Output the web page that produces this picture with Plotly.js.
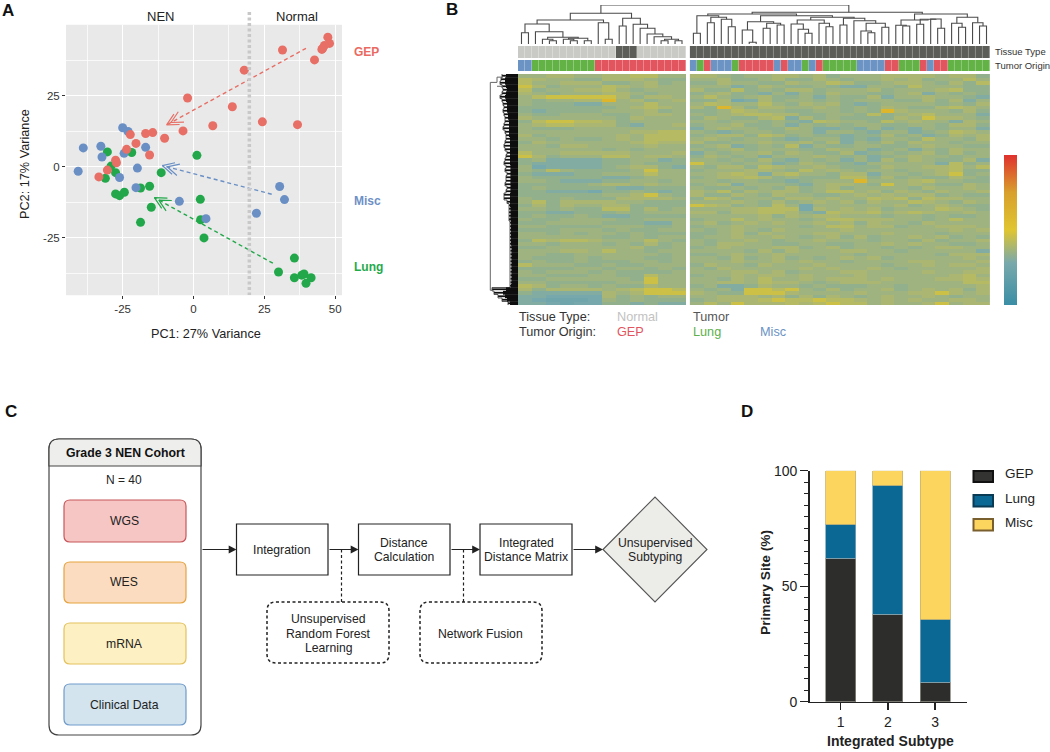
<!DOCTYPE html>
<html>
<head>
<meta charset="utf-8">
<script src="https://cdn.plot.ly/plotly-3.0.1.min.js"></script>
<style>html,body{margin:0;padding:0;background:#fff}</style>
</head>
<body>
<div id="chart" style="width:1050px;height:752px"></div>
<script>
// ---------- Panel A data ----------
const gepX  = [47.4,48.0,46.2,45.3,45.6,31.4,42.7,17.9,-2.1,13.7,24.3,36.7,6.8,-3.7,-10.2,-14.4,-16.9,-22.3,-20.3,-23.6,-15.5,-27.5,-27.2,-30.4,-33.4];
const gepY  = [45.6,43.4,42.7,41.3,41.7,41.1,37.6,34.0,24.2,21.1,15.8,14.8,14.4,12.6,10.0,12.0,11.7,11.3,8.2,6.1,4.1,2.3,1.4,-1.2,-3.6];
const miscX = [-40.7,-38.9,-32.7,-32.3,-25.0,-23.1,-24.5,-16.9,-19.8,-26.1,-20.3,-5.0,4.4,22.2,30.4,32.1];
const miscY = [-1.6,6.6,7.2,3.4,13.7,12.4,4.7,6.8,-0.5,-3.8,-7.4,-12.2,-18.3,-16.4,-7.0,-11.6];
const lungX = [-30.4,-21.8,-29.1,-27.5,-31.1,1.2,-11.4,-15.5,-18.7,-27.5,-26.1,-24.4,2.4,-14.9,2.5,-18.7,3.7,35.6,30.0,35.6,38.2,39.0,39.7,41.5];
const lungY = [5.2,5.0,0.2,-2.1,-4.1,4.0,-2.1,-6.9,-7.5,-9.6,-10.2,-9.0,-11.5,-14.3,-18.7,-19.6,-25.1,-32.2,-37.1,-39.1,-38.2,-37.8,-41.1,-39.1];
const gepArrow  = [[39.7,41.7],[-9.5,14.7]];
const miscArrow = [[27.6,-9.7],[-11,0.4]];
const lungArrow = [[28,-34],[-13.8,-10.9]];
const xTickVals = [-25,0,25,50], xTickText = ['-25','0','25','50'];
const yTickVals = [-25,0,25],    yTickText = ['-25','0','25'];

// ---------- Panel B data ----------
const levelValues = [0.20,0.24,0.27,0.30,0.335,0.36,0.385,0.41,0.46,0.60];
const leftRows = [
"556655667755","765544666544","755666445645","864555765655","745566754555","654555665455",
"578888864665","545566956456","544433555755","444444456765","434444555645","544555445665",
"655555546555","478877645555","567766643556","544455555555","555555556677","645555565777",
"554544565777","465555556766","554665555655","555555454555","755666665556","864555775665",
"453333445534","433333445444","523333456643","547544445855","433344555755","544444334555",
"554333445545","444445665655","454444433444","443332445434","444444556854","544544466665",
"574666655444","464655664444","554544774645","443344454555","454454334444","544555544555",
"445555444335","554444555445","444555454455","554545545444","555555445455","476776555754",
"554555454645","445555556445","555665755455","554455555545","544454555445","454454445545",
"755544544555","444455455454","545554544445","554445544755","445555554855","554444455855",
"764554544655","646666567887","433333656888","332222645455","321112545444","332122443433"];
const rightRows = [
"6654556656455566665664","5564456446545565645575","4465544655764456654647","5553465445433554755544",
"6447454664555645556744","4564435354655445635454","5754564453544635565543","4462364554545554464635",
"5765575465643455554546","6496466556545465446765","4457655445545496555464","5456776644554745675553",
"4654467364544446586654","5545545437655475655365","4556445354545544554664","3565544653343534354553",
"5434554553554355345765","4566476454434464534656","5654554345534355475546","6445565564635464655455",
"4563454735445544565544","5456455544655345354655","3545564654463454564645","4654535556545345655455",
"5545464354535364654463","8554553465443555553745","5466476556544465566757","4555665475654554556744",
"5567636755466355456845","4566764544477464544654","5545544345559555675544","4563555435665485654465",
"5445454645645555465565","6574656645775646546556","6446546554456565664544","4764554665655767476655",
"5556546456564655765465","8764547525555556456544","5556677726565645557654","6646677643766756765565",
"5555564656655545545445","4557565545776665545755","5645656556564655465555","4556555545775664556665",
"5456546555565555555656","4456465556655565554555","4556556545646455656454","5455654556555455464556",
"5466554455445565655445","4565556645645545456655","5555464655566554555553","4456556555554555554666",
"5546456454565645555565","5556556565545555665556","4655465556555545565665","5465555565655654555556",
"5556656455566555565566","4556566565556555555675","5546575565666565556676","5566576654566655555577",
"4533465545444554555556","5453887854645564565646","6544888655556555668656","5566656464654565565455",
"4566678778776565655665","5758666767877565568566"];
const tissueLeft  = "NNNNNNNNNNNNNNTTTNNNNNNN";
const tissueRight = "TTTTTTTTTTTTTTTTTTTTTTTTTTTTTTTTTTTTTTTTTTT";
const originLeft  = "BBGGGGGGGGGRRRRRRRRRRRRR";
const originRight = "BGRBBBGRRRRRBRBBGBRGGGGGBBBBRRGGGRBRRGGGGGG";
// Column tree: [childA, childB, height, optional position]; child >= 0 is a leaf, child < 0 is an earlier merge
const columnTree = [
[4,5,3.3],[3,-1,4.7],[7,8,3.3],[6,-3,4.7],[9,10,3.3],[-4,-5,5.7],[-2,-6,6.7],[2,-7,12.3],[0,1,11.3],[-9,-8,20],
[12,13,4.7],[11,-11,21.3],[-10,-12,24],[14,15,18],[22,23,3.3],[20,21,3.3],[-16,-15,4.7],[19,-17,7.3],[18,-18,10],[17,-19,15.7],
[16,-20,19.7],[-14,-21,25.7],[-13,-22,30.7],
[24,25,10.7],[26,27,21.3],[29,30,17.3],[28,-26,24.7],[-25,-27,26.7],[-24,-28,28.3],[32,33,1.7],
[31,-30,14],[34,35,15.7],[36,37,19],[-32,-33,20.7],[-31,-34,22.3],[40,41,10.7],[39,-36,14.7],[38,-37,20],[43,44,17.3],[42,-39,20.7],
[-38,-40,24],[45,46,19],[49,50,11.3],[48,-43,13],[51,52,16.7],[-44,-45,20.7],[47,-46,23.3],[-42,-47,25.7],[-41,-48,26.7],[-35,-49,28.3],
[-29,-50,30],[54,55,18],[53,-52,18.7],[56,57,19.7],[59,60,15.7],[58,-55,25],[-54,-56,24.7],[-53,-57,24],[62,63,16.7],[61,-59,20.7],
[65,66,18],[64,-61,21.3],[-60,-62,26.7],[-58,-63,30,57.43],[-51,-64,31.7,46.9],[-23,-65,39]];
const rowCore = [12,13,13,12,11,12,13,12,11,11,11,10,10,9,9,9,9,9,8,8,8,8,8,8,8,8,7.5,7.5,7.5,7.5,7.5,7.5,7.5,7.5,8,8,8,8,7.5,7.5,7.5,7.5,7,7,7,7,7,7,7,6.5,6.5,6.5,6.5,6.5,6.5,6.5,6.5,6.5,6.5,6.5,7,12,15,13,11,8];
const rowBranch = [16,17,18,16,15,16,18,16,15,14,15,14,13,13,14,15,13,12,12,13,14,13,11,12,13,14,12,13,11,12,12,13,11,12,14,14,11,9,9,9,9,9,8,8,8,8,8,8,8,8,7.5,7.5,7.5,7.5,7.5,7.5,7.5,7.5,7.5,7.5,8,26,24,20,16,10];
const rowRootX = [15,21,21,21,27.7,27.7,25,null,21,15];
const rowRootY = [0.4,0.4,1.9,1.9,1.9,61.3,61.3,null,3,3];

// ---------- Panel D data ----------
const subtypes = [1,2,3];
const dGep  = [62,37.8,8.5];
const dLung = [14.8,56,27.3];
const dMisc = [23.2,6.2,64.2];

// ---------- helpers ----------
const W=1050,H=752;
const X=p=>p/W, Y=p=>1-p/H;
const domX=(a,b)=>[a/W,b/W], domY=(a,b)=>[1-b/H,1-a/H];
const FONT='"Liberation Sans", Arial, sans-serif';
const C={gep:'#E76F66',misc:'#6A8FC5',lung:'#22A84A'};

function chevrons(arrow){
  const [s,t]=arrow; const kx=70.8/25, ky=71/25;
  let dx=(s[0]-t[0])*kx, dy=(s[1]-t[1])*ky; const L=Math.hypot(dx,dy); dx/=L; dy/=L;
  const xs=[],ys=[];
  [0,5].forEach(off=>{
    const tx=t[0]+dx*off/kx, ty=t[1]+dy*off/ky;
    [27,-27].forEach((a,i)=>{
      const r=a*Math.PI/180,c=Math.cos(r),n=Math.sin(r);
      const wx=(dx*c-dy*n)*13/kx, wy=(dx*n+dy*c)*13/ky;
      if(i===0){xs.push(tx+wx,tx);ys.push(ty+wy,ty);} else {xs.push(tx+wx,null);ys.push(ty+wy,null);}
    });
  });
  return {x:xs,y:ys};
}
function arrowTraces(arrow,color){
  const c=chevrons(arrow);
  return [
   {type:'scatter',mode:'lines',x:arrow.map(p=>p[0]),y:arrow.map(p=>p[1]),line:{color,width:1.4,dash:'4px,3px'},xaxis:'x',yaxis:'y',hoverinfo:'skip',showlegend:false},
   {type:'scatter',mode:'lines',x:c.x,y:c.y,line:{color,width:1.2},xaxis:'x',yaxis:'y',hoverinfo:'skip',showlegend:false}
  ];
}
const leafX=i=>i<24?i:i+0.63;
function treeSegments(tree){
  const pos=[],hs=[],xs=[],ys=[];
  const get=c=>c>=0?[leafX(c),0]:[pos[-c-1],hs[-c-1]];
  tree.forEach((m,i)=>{
    const [ax,ah]=get(m[0]),[bx,bh]=get(m[1]);
    pos[i]=m[3]!==undefined?m[3]:(ax+bx)/2; hs[i]=m[2];
    xs.push(ax,ax,bx,bx,null); ys.push(ah,m[2],m[2],bh,null);
  });
  return {x:xs,y:ys};
}
const decode=rows=>rows.map(r=>r.split('').map(d=>levelValues[+d]));
const catCode={N:0,T:1,B:2,G:3,R:4};
const annScale=[[0,'#C9C9C5'],[0.2,'#C9C9C5'],[0.2,'#5C5C58'],[0.4,'#5C5C58'],[0.4,'#6B93C4'],[0.6,'#6B93C4'],[0.6,'#62B246'],[0.8,'#62B246'],[0.8,'#E2555F'],[1,'#E2555F']];
const heatScale=[[0,'#3A8EA5'],[0.28,'#79A9AC'],[0.5,'#E0C530'],[0.75,'#D8A02C'],[1,'#E0312E']];
const codes=s=>s.split('').map(c=>catCode[c]);

// ---------- traces ----------
const traces=[];
const pts=(x,y,color,name)=>({type:'scatter',mode:'markers',name,x,y,marker:{color,size:9},xaxis:'x',yaxis:'y',showlegend:false});
traces.push(pts(lungX,lungY,C.lung,'Lung'),pts(miscX,miscY,C.misc,'Misc'),pts(gepX,gepY,C.gep,'GEP'));
traces.push(...arrowTraces(gepArrow,C.gep),...arrowTraces(miscArrow,C.misc),...arrowTraces(lungArrow,C.lung));

// heatmap blocks
traces.push({type:'heatmap',z:decode(leftRows),x0:0.5,dx:2,y0:0,dy:1,xaxis:'x2',yaxis:'y2',zmin:0,zmax:1,colorscale:heatScale,
  showscale:true,colorbar:{x:1004/W,xanchor:'left',y:Y(305),yanchor:'bottom',len:150,lenmode:'pixels',thickness:13,thicknessmode:'pixels',showticklabels:false,ticks:'',outlinewidth:0,xpad:0,ypad:0},hoverinfo:'skip'});
traces.push({type:'heatmap',z:decode(rightRows),x0:24.13+43/44,dx:43/22,y0:0,dy:1,xaxis:'x2',yaxis:'y2',zmin:0,zmax:1,colorscale:heatScale,showscale:false,hoverinfo:'skip'});
// annotation bars
traces.push({type:'heatmap',z:[codes(originLeft),codes(tissueLeft)],x0:0,dx:1,y:[0,1],xaxis:'x2',yaxis:'y3',zmin:0,zmax:5,zauto:false,colorscale:annScale,showscale:false,xgap:0.3,ygap:2,hoverinfo:'skip'});
traces.push({type:'heatmap',z:[codes(originRight),codes(tissueRight)],x0:24.63,dx:1,y:[0,1],xaxis:'x2',yaxis:'y3',zmin:0,zmax:5,zauto:false,colorscale:annScale,showscale:false,xgap:0.3,ygap:2,hoverinfo:'skip'});
// column dendrogram
const tree=treeSegments(columnTree);
traces.push({type:'scatter',mode:'lines',x:tree.x,y:tree.y,xaxis:'x2',yaxis:'y4',line:{color:'#4A4A4A',width:1.1},hoverinfo:'skip',showlegend:false});
// row dendrogram
const branchX=[],branchY=[],coreX=[],coreY=[],stairX=[],stairY=[];
rowCore.forEach((d,i)=>{coreX.push(d,0,null);coreY.push(i,i,null);});
rowBranch.forEach((d,i)=>{branchX.push(d,0,null);branchY.push(i,i,null);stairX.push(d,d);stairY.push(i-0.5,i+0.5);});
traces.push({type:'scatter',mode:'lines',x:branchX,y:branchY,xaxis:'x3',yaxis:'y2',line:{color:'#111',width:1.8},hoverinfo:'skip',showlegend:false});
traces.push({type:'scatter',mode:'lines',x:stairX,y:stairY,xaxis:'x3',yaxis:'y2',line:{color:'#333',width:0.8},hoverinfo:'skip',showlegend:false});
traces.push({type:'scatter',mode:'lines',x:coreX,y:coreY,xaxis:'x3',yaxis:'y2',line:{color:'#0E0E0E',width:3.9},hoverinfo:'skip',showlegend:false});
traces.push({type:'scatter',mode:'lines',x:rowRootX,y:rowRootY,xaxis:'x3',yaxis:'y2',line:{color:'#666',width:1},hoverinfo:'skip',showlegend:false});
// bars
const barLine=c=>({color:c,width:0.8});
traces.push({type:'bar',name:'GEP',x:subtypes,y:dGep,width:0.636,marker:{color:'#2D2D2B',line:barLine('#8a8a80')},xaxis:'x4',yaxis:'y5',showlegend:false});
traces.push({type:'bar',name:'Lung',x:subtypes,y:dLung,width:0.636,marker:{color:'#0B6794',line:barLine('#7fa6b8')},xaxis:'x4',yaxis:'y5',showlegend:false});
traces.push({type:'bar',name:'Misc',x:subtypes,y:dMisc,width:0.636,marker:{color:'#FCD55F',line:barLine('#c9b36a')},xaxis:'x4',yaxis:'y5',showlegend:false});

// ---------- shapes ----------
const shapes=[];
const rect=(x0,y0,x1,y1,fill,line,w,layer)=>shapes.push({type:'rect',xref:'paper',yref:'paper',x0:X(x0),x1:X(x1),y0:Y(y0),y1:Y(y1),fillcolor:fill,line:{color:line,width:w===undefined?1:w},layer:layer||'above'});
function rrect(x0,y0,x1,y1,r,fill,line,w,dash){
  const p=`M ${X(x0+r)} ${Y(y0)} L ${X(x1-r)} ${Y(y0)} Q ${X(x1)} ${Y(y0)} ${X(x1)} ${Y(y0+r)} L ${X(x1)} ${Y(y1-r)} Q ${X(x1)} ${Y(y1)} ${X(x1-r)} ${Y(y1)} L ${X(x0+r)} ${Y(y1)} Q ${X(x0)} ${Y(y1)} ${X(x0)} ${Y(y1-r)} L ${X(x0)} ${Y(y0+r)} Q ${X(x0)} ${Y(y0)} ${X(x0+r)} ${Y(y0)} Z`;
  shapes.push({type:'path',xref:'paper',yref:'paper',path:p,fillcolor:fill,line:{color:line,width:w,dash:dash||'solid'}});
}
const hline=(x0,y0,x1,y1,color,w,dash)=>shapes.push({type:'line',xref:'paper',yref:'paper',x0:X(x0),x1:X(x1),y0:Y(y0),y1:Y(y1),line:{color,width:w,dash:dash||'solid'}});
// A background and divider
rect(66,24.7,342,295.3,'#E9E9E9','#E9E9E9',0,'below');
shapes.push({type:'line',xref:'x',yref:'paper',x0:19.7,x1:19.7,y0:Y(12),y1:Y(295),line:{color:'#C8C8C8',width:3.5,dash:'3px,2.5px'}});
// C diagram
rrect(49,439,201,735,10,'#FFFFFF','#444',1.2);
const hdr=`M ${X(49)} ${Y(466)} L ${X(49)} ${Y(449)} Q ${X(49)} ${Y(439)} ${X(59)} ${Y(439)} L ${X(191)} ${Y(439)} Q ${X(201)} ${Y(439)} ${X(201)} ${Y(449)} L ${X(201)} ${Y(466)} Z`;
shapes.push({type:'path',xref:'paper',yref:'paper',path:hdr,fillcolor:'#EEEEEC',line:{color:'#444',width:1.2}});
rrect(64,500,186,542,6,'#F5C6C4','#C8565A',1.2);
rrect(64,562,186,603,6,'#FBDCC0','#E6A33F',1.2);
rrect(64,623,186,664,6,'#FDF0C2','#E3C25E',1.2);
rrect(64,684,186,725,6,'#D3E4EE','#6F9BCB',1.2);
rect(236.5,524,328,575,'#FFFFFF','#222',1.2);
rect(358.5,524,450,575,'#FFFFFF','#222',1.2);
rect(480,524,572,575,'#FFFFFF','#222',1.2);
shapes.push({type:'path',xref:'paper',yref:'paper',path:`M ${X(603)} ${Y(549.5)} L ${X(655)} ${Y(497)} L ${X(707)} ${Y(549.5)} L ${X(655)} ${Y(602)} Z`,fillcolor:'#ECECE9',line:{color:'#555',width:1.1}});
hline(341.5,549.5,341.5,602,'#222',1.2,'3px,2.5px');
hline(463.5,549.5,463.5,602,'#222',1.2,'3px,2.5px');
rrect(267,602,389,663,9,'#FFFFFF','#222',1.5,'3px,2.5px');
rrect(420,602,542,663,9,'#FFFFFF','#222',1.5,'3px,2.5px');
// D legend swatches
rect(973.5,471,993,482,'#333331','#111',2);
rect(973.5,495,993,506.5,'#0B6794','#0A3B55',2);
rect(973.5,519,993,530.5,'#FCD55F','#7A5F2E',2);

// ---------- annotations ----------
const ann=[];
const txt=(x,y,text,size,color,opt)=>ann.push(Object.assign({xref:'paper',yref:'paper',x:X(x),y:Y(y),text,showarrow:false,xanchor:'center',yanchor:'middle',font:{family:FONT,size,color},borderpad:0},opt||{}));
const L={xanchor:'left'};
txt(1,10,'<b>A</b>',17,'#111',L); txt(445,9,'<b>B</b>',17,'#111',L); txt(4,411,'<b>C</b>',17,'#111',L); txt(740,411,'<b>D</b>',17,'#111',L);
txt(160,16,'NEN',13,'#222'); txt(297,16,'Normal',13,'#222');
txt(206,334,'PC1: 27% Variance',12.7,'#222'); txt(25,164,'PC2: 17% Variance',12.7,'#222',{textangle:-90});
txt(353,52,'<b>GEP</b>',12,'#EA6A62',L); txt(353,201,'<b>Misc</b>',12,'#6E90C6',L); txt(353,267,'<b>Lung</b>',12,'#1FAA4C',L);
txt(994,51,'Tissue Type',9.5,'#333',L); txt(994,65,'Tumor Origin',9.5,'#333',L);
txt(518,316.5,'Tissue Type:',12.7,'#333',L); txt(518,332,'Tumor Origin:',12.7,'#333',L);
txt(616,316.5,'Normal',12.7,'#C2C2C2',L); txt(692,316.5,'Tumor',12.7,'#555',L);
txt(616,332,'GEP',12.7,'#E2555F',L); txt(692,332,'Lung',12.7,'#5DB04A',L); txt(759,332,'Misc',12.7,'#6B93C4',L);
txt(125,453,'<b>Grade 3 NEN Cohort</b>',12.3,'#111');
txt(124,480,'N = 40',12,'#222');
txt(124,521,'WGS',12.2,'#222'); txt(124,582,'WES',12.2,'#222'); txt(124,643.5,'mRNA',12.2,'#222'); txt(124,704.5,'Clinical Data',12.2,'#222');
txt(282,550,'Integration',12.2,'#222');
txt(404,543,'Distance',12.2,'#222'); txt(404,557,'Calculation',12.2,'#222');
txt(526,543,'Integrated',12.2,'#222'); txt(526,557,'Distance Matrix',12.2,'#222');
txt(655,543,'Unsupervised',12.2,'#222'); txt(655,557,'Subtyping',12.2,'#222');
txt(328,619,'Unsupervised',12.2,'#222'); txt(328,633.5,'Random Forest',12.2,'#222'); txt(328,648,'Learning',12.2,'#222');
txt(480,633.5,'Network Fusion',12.2,'#222');
txt(1004,473,'GEP',13.5,'#222',L); txt(1004,498,'Lung',13.5,'#222',L); txt(1004,522,'Misc',13.5,'#222',L);
txt(890,741,'<b>Integrated Subtype</b>',14,'#222'); txt(765,583,'<b>Primary Site (%)</b>',13.7,'#222',{textangle:-90});
// flow arrows
[[236.5,35.5],[358.5,30.5],[480,30],[603,31]].forEach(([tip,len])=>ann.push({xref:'paper',yref:'paper',x:X(tip),y:Y(549.5),ax:-len,ay:0,axref:'pixel',ayref:'pixel',text:'',showarrow:true,arrowhead:2,arrowsize:1.3,arrowwidth:1.2,arrowcolor:'#222'}));

// ---------- layout ----------
const hidden={visible:false,showgrid:false,zeroline:false,fixedrange:true};
const layout={
 width:W,height:H,margin:{l:0,r:0,t:0,b:0},paper_bgcolor:'#fff',plot_bgcolor:'rgba(0,0,0,0)',
 font:{family:FONT,color:'#222'},showlegend:false,barmode:'stack',shapes,annotations:ann,
 xaxis:{domain:domX(66,342),range:[-45,52.4],tickvals:xTickVals,ticktext:xTickText,ticks:'outside',ticklen:3,tickcolor:'#333',tickfont:{size:11.5,color:'#333'},
   showgrid:true,gridcolor:'#fff',gridwidth:1.4,zeroline:false,minor:{tickvals:[-37.5,-12.5,12.5,37.5],showgrid:true,gridcolor:'#fff',gridwidth:0.7,ticks:''},anchor:'y'},
 yaxis:{domain:domY(24.7,295.3),range:[-45.3,50],tickvals:yTickVals,ticktext:yTickText,ticks:'outside',ticklen:3,tickcolor:'#333',tickfont:{size:11.5,color:'#333'},
   showgrid:true,gridcolor:'#fff',gridwidth:1.4,zeroline:false,minor:{tickvals:[-37.5,-12.5,12.5,37.5],showgrid:true,gridcolor:'#fff',gridwidth:0.7,ticks:''},anchor:'x'},
 xaxis2:Object.assign({},hidden,{domain:domX(518,990),range:[-0.5,67.13],anchor:'y2'}),
 yaxis2:Object.assign({},hidden,{domain:domY(74,305),range:[65.5,-0.5],anchor:'x2'}),
 yaxis3:Object.assign({},hidden,{domain:domY(45,72),range:[-0.5,1.5],anchor:'x2'}),
 yaxis4:Object.assign({},hidden,{domain:domY(5,44),range:[0,39],anchor:'x2'}),
 xaxis3:Object.assign({},hidden,{domain:domX(475,518),range:[43,0],anchor:'y2'}),
 xaxis4:{domain:domX(809.5,966.7),range:[0.34,3.67],tickvals:subtypes,ticks:'outside',ticklen:7,tickwidth:1.3,tickcolor:'#222',linecolor:'#222',linewidth:1.4,showline:true,showgrid:false,zeroline:false,
   tickfont:{size:14,color:'#222'},anchor:'y5'},
 yaxis5:{domain:domY(470.7,701.7),range:[0,100],tickvals:[0,50,100],ticks:'outside',ticklen:8,tickwidth:1.3,tickcolor:'#222',linecolor:'#222',linewidth:1.4,showline:true,showgrid:false,zeroline:false,
   minor:{dtick:5,ticks:'outside',ticklen:4,tickwidth:1,tickcolor:'#222',showgrid:false},
   tickfont:{size:14,color:'#222'},anchor:'x4'}
};
Plotly.newPlot('chart',traces,layout,{displayModeBar:false,staticPlot:true});
</script>
</body>
</html>
